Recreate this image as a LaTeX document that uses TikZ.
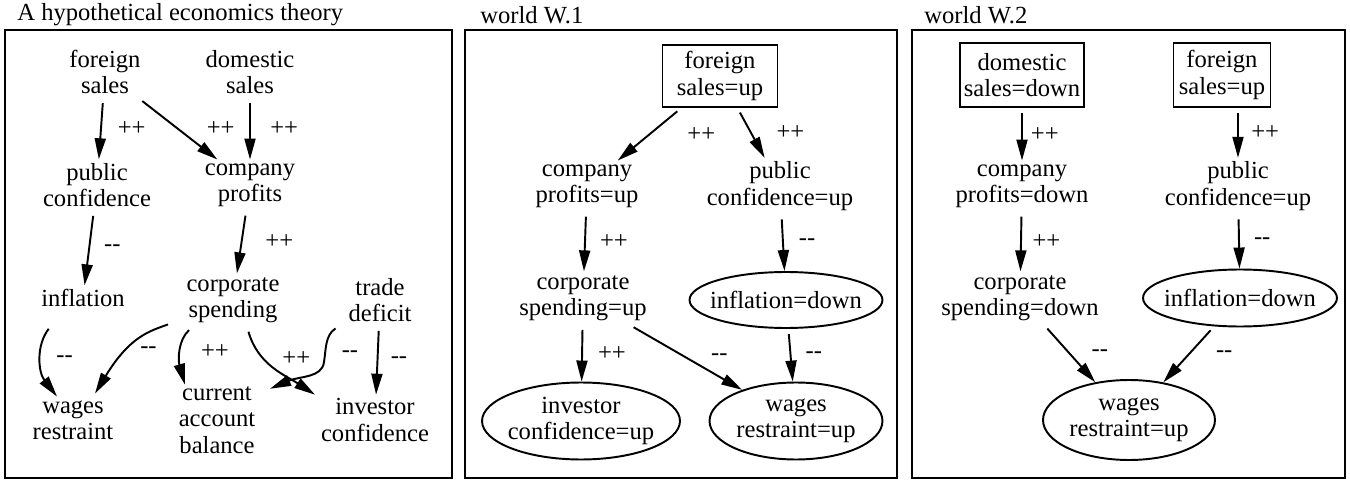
\documentclass[tikz,border=0pt]{standalone}
\usepackage{fontspec}
\setmainfont{Liberation Serif}
\usetikzlibrary{arrows.meta,shapes.geometric,calc}

\begin{document}
\begin{tikzpicture}[
        x=0.02cm, y=-0.02cm,
        every node/.style={font=\fontsize{14}{15}\selectfont},
        txt/.style={align=center, inner sep=2pt},
        box/.style={draw, line width=1.1pt, align=center, inner xsep=2pt, inner ysep=3pt},
        ell/.style={draw, ellipse, line width=1.1pt, align=center, inner xsep=-8pt, inner ysep=0pt},
        lbl/.style={inner sep=0pt},
        arr/.style={-{Triangle[length=4.2mm,width=2.2mm]}, line width=1.1pt, shorten <=3pt},
        panel/.style={draw, line width=1.1pt},
    ]
        \useasboundingbox (0,0) rectangle (1350,483);

        \draw[panel] (5,30) rectangle (452,478);
        \draw[panel] (465,30) rectangle (897,478);
        \draw[panel] (912,30) rectangle (1345,478);

        \node[anchor=west, inner sep=0pt] (title1) at (17,15) {A hypothetical economics theory};
        \node[anchor=west, inner sep=0pt] (title2) at (480,15) {world W.1};
        \node[anchor=west, inner sep=0pt] (title3) at (924,15) {world W.2};

        \node[txt] (fs1) at (105,72) {foreign\\sales};
        \node[txt] (ds1) at (250,72) {domestic\\sales};
        \node[txt] (pc1) at (97,185) {public\\confidence};
        \node[txt] (cp1) at (250,185) {company\\profits};
        \node[txt] (in1) at (83,298) {inflation};
        \node[txt] (cs1) at (233,300) {corporate\\spending};
        \node[txt] (td1) at (380,300) {trade\\deficit};
        \node[txt] (wr1) at (73,420) {wages\\restraint};
        \node[txt] (ca1) at (217,420) {current\\account\\balance};
        \node[txt] (ic1) at (375,420) {investor\\confidence};

        \draw[arr] (fs1) -- node[lbl, right=9pt] {++} (pc1);
        \draw[arr] (fs1) -- node[lbl, right=16pt] {++} (cp1);
        \draw[arr] (ds1) -- node[lbl, right=11pt] {++} (cp1);
        \draw[arr] (pc1) -- node[lbl, right=8pt] {-{}-} (in1);
        \draw[arr] (cp1) -- node[lbl, right=13pt] {++} (cs1);
        \draw[arr] ($(in1.south)+(-31,14)$) .. controls (36,345) and (38,372) .. ($(wr1.north)+(-16,0)$) node[lbl, pos=.5, right=8pt] {-{}-};
        \draw[arr] ($(cs1.south)+(-60,-4)$) .. controls (150,331) and (130,336) .. ($(wr1.north)+(22,-3)$) node[lbl, pos=.65, right=7pt] {-{}-};
        \draw[arr] ($(cs1.south)+(-40,0)$) .. controls (178,340) and (178,360) .. ($(ca1.north)+(-32,2)$) node[lbl, pos=.5, right=11pt] {++};
        \draw[arr] ($(cs1.south)+(14,0)$) .. controls (258,365) and (285,375) .. ($(ic1.north)+(-60,0)$) node[lbl, pos=.35, right=10pt] {++};
        \draw[arr] ($(td1.south)+(-40,0)$) .. controls (325,335) and (326,350) .. (324,362) node[lbl, pos=.8, right=9pt] {-{}-}
            .. controls (322,378) and (300,376) .. ($(ca1.north)+(53,6)$);
        \draw[arr] (td1) -- node[lbl, right=7pt] {-{}-} (ic1);

        \node[box, minimum width=2.3cm, minimum height=1.24cm] (fs2) at (720,76) {foreign\\sales=up};
        \node[txt] (cp2) at (587,186) {company\\profits=up};
        \node[txt] (pc2) at (780,186) {public\\confidence=up};
        \node[txt] (cs2) at (583,298) {corporate\\spending=up};
        \node[ell, minimum width=3.86cm, minimum height=1.12cm] (in2) at (786,300) {inflation=down};
        \node[ell, minimum width=3.96cm, minimum height=1.54cm] (ic2) at (581,421) {investor\\confidence=up};
        \node[ell, minimum width=3.46cm, minimum height=1.54cm] (wr2) at (796,421) {wages\\restraint=up};

        \draw[arr] (fs2) -- node[lbl, right=21pt] {++} (cp2);
        \draw[arr] (fs2) -- node[lbl, right=14pt] {++} (pc2);
        \draw[arr] (cp2) -- node[lbl, right=8pt] {++} (cs2);
        \draw[arr] (pc2) -- node[lbl, right=8.5pt] {-{}-} (in2);
        \draw[arr] (cs2) -- node[lbl, right=8.5pt] {++} (ic2);
        \draw[arr] (cs2) -- node[lbl, right=14pt] {-{}-} (wr2);
        \draw[arr] (in2) -- node[lbl, right=8pt] {-{}-} (wr2);

        \node[box, minimum width=2.46cm, minimum height=1.28cm] (ds3) at (1022,75) {domestic\\sales=down};
        \node[box, minimum width=1.94cm, minimum height=1.28cm] (fs3) at (1222,75) {foreign\\sales=up};
        \node[txt] (cp3) at (1022,186) {company\\profits=down};
        \node[txt] (pc3) at (1238,186) {public\\confidence=up};
        \node[txt] (cs3) at (1020,298) {corporate\\spending=down};
        \node[ell, minimum width=3.88cm, minimum height=1.14cm] (in3) at (1240,298) {inflation=down};
        \node[ell, minimum width=3.44cm, minimum height=1.6cm] (wr3) at (1129,420) {wages\\restraint=up};

        \draw[arr] (ds3) -- node[lbl, right=4.5pt] {++} (cp3);
        \draw[arr] (fs3.south -| pc3.north) -- node[lbl, right=7pt] {++} (pc3.north);
        \draw[arr] (cp3) -- node[lbl, right=6pt] {++} (cs3);
        \draw[arr] (pc3) -- node[lbl, right=8pt] {-{}-} (in3);
        \draw[arr] (cs3) -- node[lbl, right=12pt] {-{}-} (wr3);
        \draw[arr] (in3) -- node[lbl, right=15pt] {-{}-} (wr3);
    \end{tikzpicture}
\end{document}
